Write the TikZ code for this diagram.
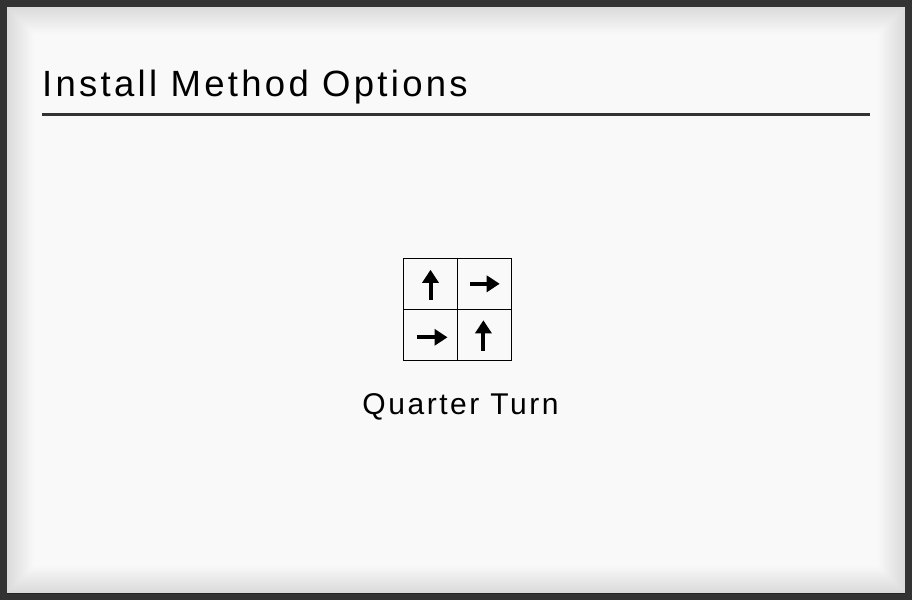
\documentclass[tikz,border=0pt]{standalone}
\usepackage{fontspec}
\setmainfont{Liberation Sans}[LetterSpace=8.5]
\newfontfamily\headfont{Liberation Sans}[LetterSpace=9]
\usetikzlibrary{arrows.meta,positioning}

\definecolor{framegray}{HTML}{333333}
\definecolor{panelgray}{HTML}{F9F9F9}

\begin{document}
\begin{tikzpicture}[x=1pt,y=-1pt,
   cell/.style={draw,line width=1pt,minimum width=54.2pt,minimum height=51pt,
      inner sep=0pt,outer sep=0pt},
   turn/.style={line width=4pt,-{Triangle[width=16pt,length=13pt]}},
   heading/.style={anchor=base west,inner sep=0pt,font=\headfont\fontsize{36.5}{40}\selectfont},
   caption/.style={anchor=base,inner sep=0pt,font=\fontsize{30}{34}\selectfont}]
\useasboundingbox (0,0) rectangle (912,600);
% frame and panel
\fill[framegray] (0,0) rectangle (912,600);
\fill[panelgray] (7,7) rectangle (905,593);
\begin{scope}
  \clip (7,7) rectangle (905,593);
  \foreach \k in {1,...,15}
    \draw[black,opacity=0.0075,line width=3.6*\k pt,rounded corners=1.8*\k pt] (7,7) rectangle (905,593);
\end{scope}
% title
\node[heading] (title) at (42,96.5) {Install Method Options};
\coordinate (ruleL) at (42,114);
\coordinate (ruleR) at (870,114);
\draw[framegray,line width=3pt] (ruleL) -- (ruleR);
% grid of arrows
\node[cell] (c11) at (430.5,283.8) {};
\node[cell,right=0pt of c11] (c12) {};
\node[cell,below=0pt of c11] (c21) {};
\node[cell,right=0pt of c21] (c22) {};
\draw[turn] ([yshift=-16pt]c11.center) -- ([yshift=14pt]c11.center);
\draw[turn] ([xshift=-15pt]c12.center) -- ([xshift=15pt]c12.center);
\draw[turn] ([xshift=-14pt,yshift=-2.5pt]c21.center) -- ([xshift=17pt,yshift=-2.5pt]c21.center);
\draw[turn] ([xshift=-1.3pt,yshift=-16pt]c22.center) -- ([xshift=-1.3pt,yshift=14.5pt]c22.center);
\node[caption] (name) at (460.5,414.3) {Quarter Turn};
\end{tikzpicture}
\end{document}
